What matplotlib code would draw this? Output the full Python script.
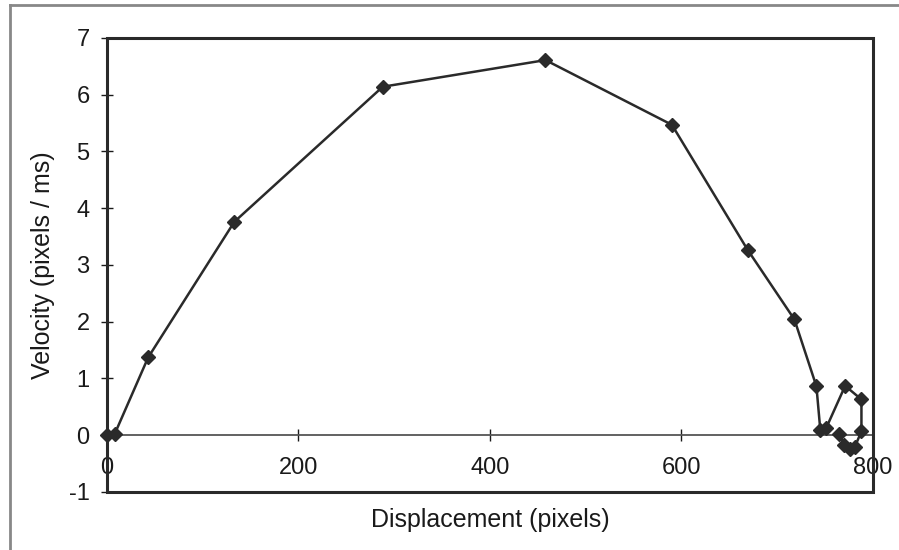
import matplotlib.pyplot as plt
from matplotlib.lines import Line2D
from matplotlib.patches import Rectangle

# displacement (pixels) and velocity (pixels / ms)
displacement = [0, 8, 43, 133, 288, 458, 590, 669, 718, 741, 745, 751,
                771, 788, 788, 781, 776, 770, 765]
velocity = [0.0, 0.02, 1.37, 3.76, 6.14, 6.61, 5.47, 3.27, 2.04, 0.86, 0.10, 0.12,
            0.87, 0.63, 0.07, -0.21, -0.25, -0.17, 0.03]

x_ticks = [0, 200, 400, 600, 800]
y_ticks = [-1, 0, 1, 2, 3, 4, 5, 6, 7]

plt.rcParams['font.family'] = ['Liberation Sans', 'DejaVu Sans']
plt.rcParams['axes.unicode_minus'] = False

fig = plt.figure(figsize=(8.99, 5.5), dpi=100)
ax = fig.add_axes([0.119, 0.1055, 0.852, 0.8255])

ax.plot(displacement, velocity, color='#2a2a2a', lw=1.8, marker='D',
        markersize=7.5, markerfacecolor='#2a2a2a', markeredgecolor='#2a2a2a',
        clip_on=False, zorder=3)

ax.set_xlim(0, 800)
ax.set_ylim(-1, 7)
ax.set_xticks(x_ticks)
ax.set_yticks(y_ticks)

# x axis sits on the zero line, box drawn separately
ax.spines['bottom'].set_position(('data', 0))
ax.spines['bottom'].set_color('#555555')
ax.spines['bottom'].set_linewidth(1.3)
for s in ['top', 'right', 'left']:
    ax.spines[s].set_visible(False)
ax.add_patch(Rectangle((0, 0), 1, 1, transform=ax.transAxes, fill=False,
                       edgecolor='#2a2a2a', lw=2.2, clip_on=False, zorder=4))

ax.tick_params(axis='x', direction='inout', length=9, width=1, pad=11,
               labelsize=17, colors='#1a1a1a')
ax.tick_params(axis='y', direction='inout', length=9, width=1, pad=8,
               labelsize=17, colors='#1a1a1a')

ax.set_xlabel('Displacement (pixels)', fontsize=18, color='#1a1a1a')
ax.set_ylabel('Velocity (pixels / ms)', fontsize=18, color='#1a1a1a')
ax.xaxis.set_label_coords(0.5, -0.035)
ax.yaxis.set_label_coords(-0.068, 0.5)

# grey outer border of the chart
fig.add_artist(Line2D([10 / 899, 10 / 899], [0, 1 - 5 / 550],
                      transform=fig.transFigure, color='#888888', lw=2))
fig.add_artist(Line2D([10 / 899, 1], [1 - 5 / 550, 1 - 5 / 550],
                      transform=fig.transFigure, color='#888888', lw=2))

fig.savefig('out.png', dpi=100)
